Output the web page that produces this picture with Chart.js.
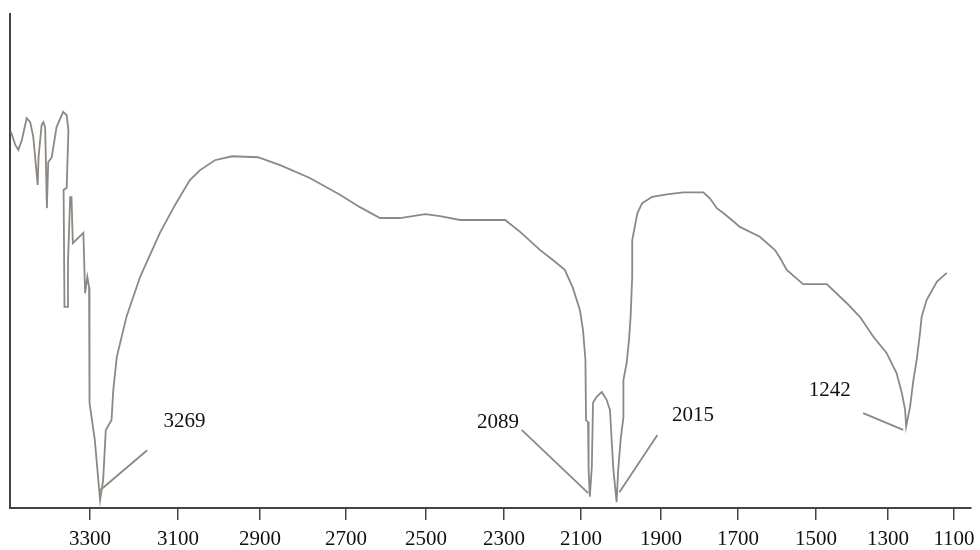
<!DOCTYPE html>
<html>
<head>
<meta charset="utf-8">
<script src="https://cdn.jsdelivr.net/npm/chart.js@4.4.1/dist/chart.umd.min.js"></script>
<style>
  html, body { margin: 0; padding: 0; background: #fff; }
  #spectrum { display: block; }
</style>
</head>
<body>
<canvas id="spectrum" width="980" height="550"></canvas>
<script>
// IR spectrum, wavenumber (cm-1) vs transmittance (arbitrary, 0-100)
const waveNumbers = [
  3480, 3470, 3463, 3455, 3444, 3436, 3429, 3419, 3417, 3410, 3406, 3402, 3398, 3395, 3387, 3376,
  3361, 3353, 3349, 3353, 3360, 3358, 3352, 3350, 3345, 3342, 3339, 3315, 3311, 3306, 3302, 3302,
  3300, 3289, 3277, 3270, 3264, 3251, 3247, 3239, 3217, 3186, 3141, 3107, 3071, 3046, 3010, 2968,
  2905, 2853, 2784, 2714, 2665, 2615, 2565, 2502, 2464, 2413, 2361, 2297, 2258, 2206, 2173, 2142,
  2121, 2103, 2095, 2089, 2087.5, 2082.5, 2081, 2078, 2073, 2070, 2061, 2048, 2036, 2027.5, 2023, 2019,
  2011, 2007, 2001, 1994, 1994, 1986, 1980, 1976, 1972, 1972, 1959, 1947, 1922, 1885, 1842, 1790,
  1773, 1755, 1738, 1716, 1695, 1644, 1605, 1592, 1575, 1533, 1470, 1415, 1378, 1341, 1304, 1274,
  1258, 1248, 1245, 1233, 1223, 1213, 1203, 1198, 1183, 1152, 1122
];
const transmittance = [
  76.2, 73.5, 72.5, 74.5, 78.9, 78.1, 75.1, 65.4, 71.0, 77.5, 78.1, 77.1, 60.7, 70.0, 71.0, 77.1,
  80.2, 79.5, 76.5, 64.8, 64.4, 40.7, 40.7, 49.8, 62.9, 62.9, 53.6, 55.7, 43.5, 46.8, 44.7, 35.4,
  21.3, 13.8, 1.6, 5.7, 15.8, 17.8, 23.9, 30.6, 38.7, 46.8, 55.7, 61.3, 66.4, 68.4, 70.4, 71.2,
  71.0, 69.4, 66.8, 63.4, 60.9, 58.7, 58.7, 59.5, 59.1, 58.3, 58.3, 58.3, 55.9, 52.2, 50.2, 48.2,
  44.5, 40.1, 36.0, 30.0, 17.8, 17.4, 7.7, 2.3, 8.3, 21.3, 22.5, 23.5, 21.9, 19.8, 13.2, 7.7,
  1.2, 7.7, 13.8, 18.4, 25.9, 29.3, 34.0, 38.7, 46.8, 54.2, 59.7, 61.7, 63.0, 63.5, 63.9, 63.9,
  62.7, 60.7, 59.7, 58.3, 56.9, 54.9, 52.2, 50.6, 48.2, 45.3, 45.3, 41.5, 38.7, 34.7, 31.4, 27.3,
  23.3, 19.8, 16.5, 20.5, 25.9, 30.0, 35.4, 38.7, 42.1, 45.8, 47.6
];
const tickValues = [3300, 3100, 2900, 2700, 2500, 2300, 2100, 1900, 1700, 1500, 1300, 1100];

// peak annotations
const peakNames = ['3269', '2089', '2015', '1242'];
const labelX = [3084, 2315, 1817, 1462];
const labelY = [17.6, 17.3, 18.7, 23.7];
const leaderX = [[3277, 3170], [2254, 2082], [2004, 1909], [1369, 1254]];
const leaderY = [[3.6, 11.7], [15.8, 3.0], [3.2, 14.8], [19.2, 15.8]];

// the printed axis is not linear: value stops and where they sit across the plot width
const axisStops = [3482, 3300, 3100, 2900, 2700, 2500, 2300, 2100, 1900, 1700, 1500, 1300, 1100, 1048.5];
const stopFractions = [0, 0.0832, 0.1748, 0.2601, 0.3496, 0.4329, 0.5140, 0.5942, 0.6774, 0.7575, 0.8387, 0.9136, 0.9823, 1];

function toDecimal(v) {
  const n = axisStops.length;
  let i = 0;
  while (i < n - 2 && v < axisStops[i + 1]) i++;
  const t = (axisStops[i] - v) / (axisStops[i] - axisStops[i + 1]);
  return stopFractions[i] + t * (stopFractions[i + 1] - stopFractions[i]);
}
function fromDecimal(d) {
  const n = stopFractions.length;
  let i = 0;
  while (i < n - 2 && d > stopFractions[i + 1]) i++;
  const t = (d - stopFractions[i]) / (stopFractions[i + 1] - stopFractions[i]);
  return axisStops[i] - t * (axisStops[i] - axisStops[i + 1]);
}

class WaveScale extends Chart.LinearScale {
  getPixelForValue(value) {
    if (value === null || isNaN(value)) return NaN;
    return this.getPixelForDecimal(toDecimal(value));
  }
  getValueForPixel(pixel) {
    return fromDecimal(this.getDecimalForPixel(pixel));
  }
}
WaveScale.id = 'wave';
WaveScale.defaults = Chart.LinearScale.defaults;
Chart.register(WaveScale);

const lineColor = '#8d8883';

const datasets = [{
  data: waveNumbers.map((x, i) => ({ x: x, y: transmittance[i] })),
  borderColor: lineColor,
  borderWidth: 1.8,
  pointRadius: 0,
  tension: 0,
  fill: false
}];
leaderX.forEach((xs, k) => {
  datasets.push({
    data: xs.map((x, i) => ({ x: x, y: leaderY[k][i] })),
    borderColor: lineColor,
    borderWidth: 1.8,
    pointRadius: 0,
    fill: false
  });
});

const peakText = {
  id: 'peakText',
  afterDatasetsDraw(chart) {
    const { ctx, scales } = chart;
    ctx.save();
    ctx.font = '21px "Liberation Serif", "Times New Roman", serif';
    ctx.fillStyle = '#111';
    ctx.textAlign = 'center';
    ctx.textBaseline = 'middle';
    peakNames.forEach((name, i) => {
      ctx.fillText(name, scales.x.getPixelForValue(labelX[i]), scales.y.getPixelForValue(labelY[i]));
    });
    ctx.restore();
  }
};

new Chart(document.getElementById('spectrum'), {
  type: 'line',
  data: { datasets: datasets },
  plugins: [peakText],
  options: {
    responsive: false,
    animation: false,
    events: [],
    layout: { padding: { left: 10, right: 9, top: 14, bottom: 2 } },
    plugins: { legend: { display: false }, tooltip: { enabled: false } },
    scales: {
      x: {
        type: 'wave',
        min: 1048.5,
        max: 3482,
        afterBuildTicks: (scale) => { scale.ticks = tickValues.map(v => ({ value: v })); },
        afterFit: (scale) => {
          scale.height = 40;
          scale.paddingLeft = 0;
          scale.paddingRight = 0;
        },
        border: { color: '#444', width: 2 },
        grid: { drawOnChartArea: false, drawTicks: true, tickLength: 12, color: '#444', lineWidth: 1.5 },
        ticks: {
          autoSkip: false,
          maxRotation: 0,
          padding: 9,
          color: '#111',
          font: { family: '"Liberation Serif", "Times New Roman", serif', size: 21, lineHeight: 1 },
          callback: (v) => String(v)
        }
      },
      y: {
        min: 0,
        max: 100,
        border: { color: '#444', width: 2 },
        grid: { display: false, drawTicks: false },
        ticks: { display: false }
      }
    }
  }
});
</script>
</body>
</html>
